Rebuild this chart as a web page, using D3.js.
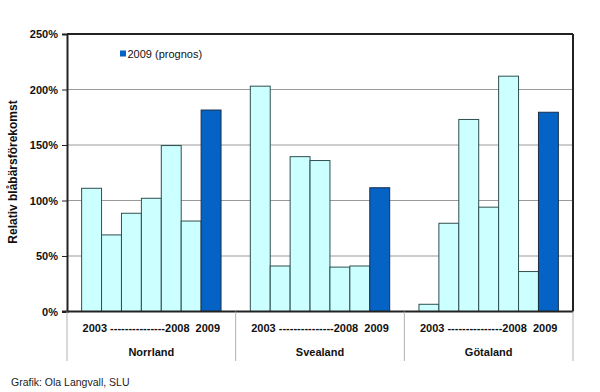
<!DOCTYPE html>
<html><head><meta charset="utf-8">
<script src="https://cdn.jsdelivr.net/npm/d3@7"></script>
<style>body{margin:0;background:#fff;} text{font-family:"Liberation Sans",Arial,sans-serif;}</style>
</head><body><svg id="c" width="600" height="392"></svg>
<script>
const regions = ["Norrland", "Svealand", "Götaland"];
const years = ["2003", "2004", "2005", "2006", "2007", "2008", "2009"];
const norrland = [111, 69, 88.5, 102, 149.5, 81.5, 181.5];
const svealand = [203, 41, 139.5, 136, 40, 41, 111.5];
const gotaland = [6.5, 79.5, 173, 94, 212, 36, 179.5];
const yTicks = [0, 50, 100, 150, 200, 250];
const yearLabel = "2003 ---------------2008  2009";
const legendLabel = "2009 (prognos)";
const yTitle = "Relativ blåbärsförekomst";
const credit = "Grafik: Ola Langvall, SLU";

const seriesByRegion = {Norrland: norrland, Svealand: svealand, "Götaland": gotaland};

const svg = d3.select("#c");
const L = 67, R = 573, T = 34, B = 311.5;

const x0 = d3.scaleBand().domain(regions).range([L, R]).padding(0);
const x1 = d3.scaleBand().domain(years).range([0, x0.bandwidth()]).paddingInner(0).paddingOuter(0.735);
const y = d3.scaleLinear().domain([0, 250]).range([B, T]);

// gridlines
svg.append("g").selectAll("line").data(yTicks.filter(d => d > 0 && d < 250)).join("line")
  .attr("x1", L).attr("x2", R).attr("y1", d => y(d)).attr("y2", d => y(d))
  .attr("stroke", "#9a9a9a").attr("stroke-width", 1);

// bars
const g = svg.append("g");
regions.forEach(r => {
  g.append("g").attr("transform", `translate(${x0(r)},0)`)
    .selectAll("rect").data(seriesByRegion[r].map((v, i) => ({year: years[i], v}))).join("rect")
    .attr("x", d => x1(d.year)).attr("width", x1.bandwidth())
    .attr("y", d => y(d.v)).attr("height", d => B - y(d.v))
    .attr("fill", d => d.year === "2009" ? "#0563C6" : "#CCFFFF")
    .attr("stroke", d => d.year === "2009" ? "#1a2f4a" : "#2f4f4f")
    .attr("stroke-width", 1);
});

// frame
svg.append("line").attr("x1", L).attr("x2", R).attr("y1", T).attr("y2", T).attr("stroke", "#222").attr("stroke-width", 2);
svg.append("line").attr("x1", R).attr("x2", R).attr("y1", T).attr("y2", B).attr("stroke", "#222").attr("stroke-width", 2);

// y axis
const yAxis = d3.axisLeft(y).tickValues(yTicks).tickFormat(d => d + "%").tickSize(5).tickPadding(4);
const ya = svg.append("g").attr("transform", `translate(${L},0)`).call(yAxis);
ya.select(".domain").attr("stroke", "#222").attr("stroke-width", 2);
ya.selectAll(".tick line").attr("stroke", "#222");
ya.selectAll("text").attr("font-size", 11).attr("font-weight", "bold").attr("fill", "#111")
  .style("font-family", "Liberation Sans, Arial, sans-serif");

// x baseline
svg.append("line").attr("x1", L - 5).attr("x2", R).attr("y1", B).attr("y2", B).attr("stroke", "#222").attr("stroke-width", 2);

// region separators
const seps = regions.map(r => x0(r)).concat([R]);
svg.append("g").selectAll("line").data(seps).join("line")
  .attr("x1", d => d).attr("x2", d => d).attr("y1", B).attr("y2", 361)
  .attr("stroke", "#b0b0b0").attr("stroke-width", 1);

// category labels
const lab = svg.append("g");
regions.forEach(r => {
  const cx = x0(r) + x0.bandwidth() / 2;
  lab.append("text").attr("x", cx).attr("y", 332).attr("text-anchor", "middle")
    .attr("font-size", 11).attr("font-weight", "bold").attr("fill", "#111")
    .attr("xml:space", "preserve").style("white-space", "pre").text(yearLabel);
  lab.append("text").attr("x", cx).attr("y", 356).attr("text-anchor", "middle")
    .attr("font-size", 11).attr("font-weight", "bold").attr("fill", "#111").text(r);
});

// legend
svg.append("rect").attr("x", 120).attr("y", 50.5).attr("width", 6).attr("height", 6).attr("fill", "#0563C6");
svg.append("text").attr("x", 127.5).attr("y", 58).attr("font-size", 11).attr("fill", "#111").text(legendLabel);

// y title
svg.append("text").attr("transform", "translate(17,172) rotate(-90)").attr("text-anchor", "middle")
  .attr("font-size", 12).attr("font-weight", "bold").attr("fill", "#111").text(yTitle);

// credit
svg.append("text").attr("x", 11).attr("y", 386).attr("font-size", 10.5).attr("fill", "#222").text(credit);
</script></body></html>
